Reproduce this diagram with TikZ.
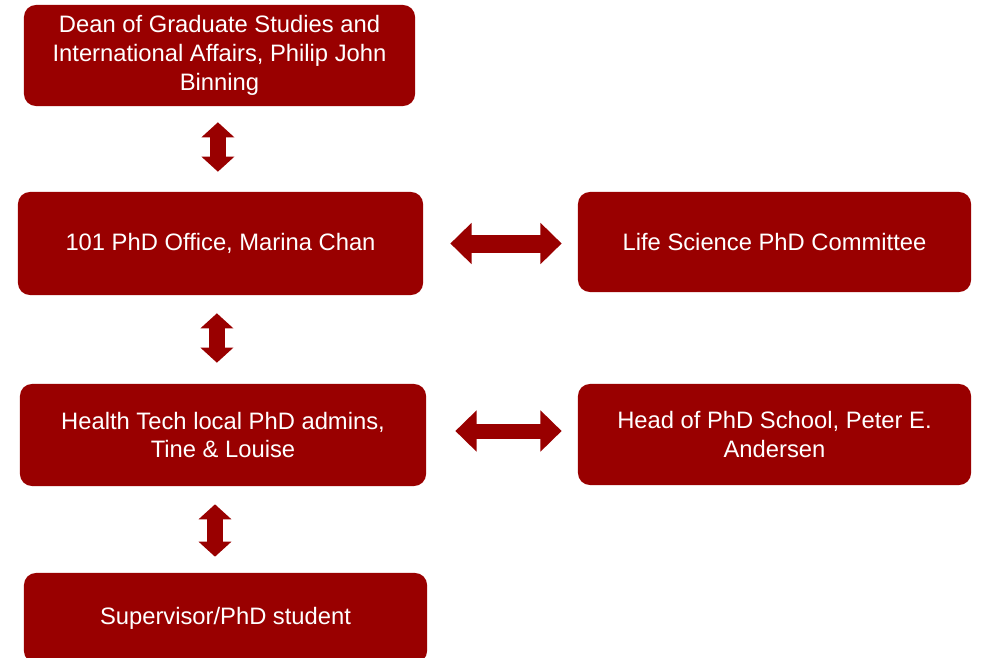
\documentclass[tikz,border=0pt]{standalone}
\usepackage{fontspec}
\setmainfont{Liberation Sans}
\usepackage{tikz}
\usetikzlibrary{arrows.meta, positioning}
\definecolor{dtured}{RGB}{153,0,0}
\tikzset{
  block/.style = {rectangle, fill=dtured, text=white, align=center, rounded corners=0.3cm,
    inner sep=0pt, minimum height=2.55cm, font=\fontsize{16.9}{20.6}\selectfont},
  vline/.style = {draw=dtured, line width=0.4cm,
    {Triangle[length=0.375cm,width=0.8cm]}-{Triangle[length=0.375cm,width=0.8cm]}},
  hline/.style = {draw=dtured, line width=0.45cm,
    {Triangle[length=0.53cm,width=1.0cm]}-{Triangle[length=0.53cm,width=1.0cm]}}
}
\begin{document}
\begin{tikzpicture}[x=0.025cm, y=-0.025cm]
    \useasboundingbox (0,0) rectangle (984,657);

    % Nodes
    \node[block, minimum width=9.775cm, minimum height=2.525cm] (dean) at (219.5,55.5)
      {\raisebox{-2.2pt}{\begin{tabular}{@{}c@{}}Dean of Graduate Studies and\\International Affairs, Philip John\\Binning\end{tabular}}};
    \node[block, minimum width=10.125cm, minimum height=2.575cm] (office) at (220.5,243.5)
      {101 PhD Office, Marina Chan};
    \node[block, minimum width=9.825cm, minimum height=2.5cm] (committee) at (774.5,242)
      {Life Science PhD Committee};
    \node[block, minimum width=10.15cm] (admins) at (223,435)
      {Health Tech local PhD admins,\\Tine \& Louise};
    \node[block, minimum width=9.825cm, minimum height=2.525cm] (head) at (774.5,434.5)
      {Head of PhD School, Peter E.\\Andersen};
    \node[block, minimum width=10.075cm, minimum height=2.25cm] (supervisor) at (225.5,618)
      {Supervisor/PhD student};

    % Arrows
    \path [vline, shorten <=0.4cm, shorten >=0.5cm] ([xshift=-0.04cm]dean.south) -- ([xshift=-0.04cm]dean.south |- office.north);
    \path [vline, shorten <=0.45cm, shorten >=0.525cm] ([xshift=-0.09cm]office.south) -- ([xshift=-0.09cm]office.south |- admins.north);
    \path [vline, shorten <=0.45cm, shorten >=0.4cm] ([xshift=-0.2cm]admins.south) -- ([xshift=-0.2cm]admins.south |- supervisor.north);
    \path [hline, shorten <=0.675cm, shorten >=0.4cm] (office.east) -- (office.east -| committee.west);
    \path [hline, line width=0.375cm, shorten <=0.725cm, shorten >=0.4cm] ([yshift=0.1cm]admins.east) -- ([yshift=0.1cm]admins.east -| head.west);

\end{tikzpicture}
\end{document}
